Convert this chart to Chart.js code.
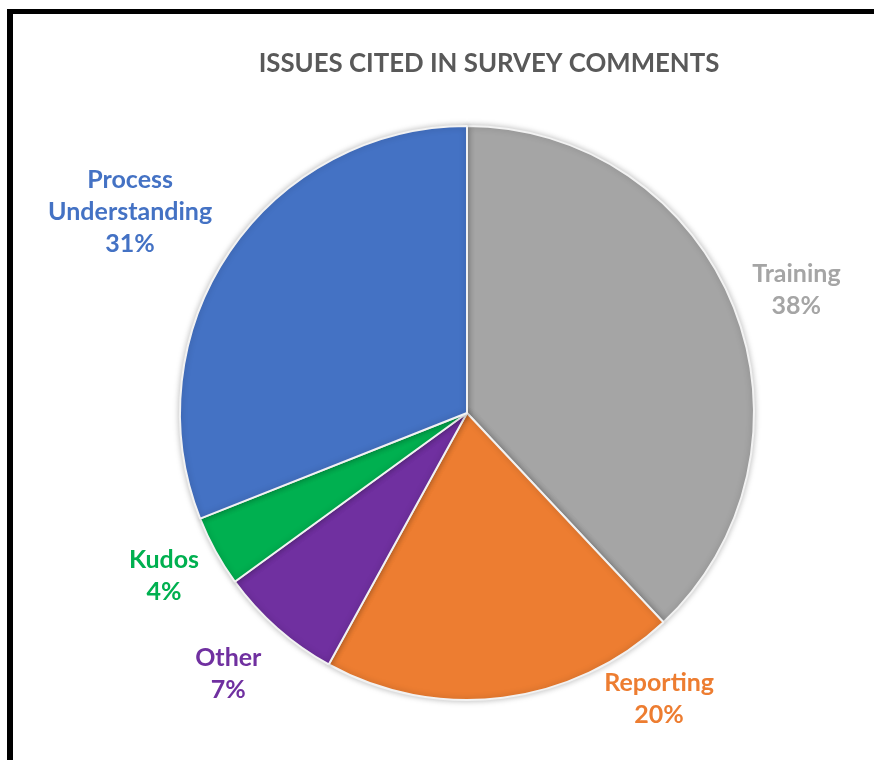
<!DOCTYPE html>
<html>
<head>
<meta charset="utf-8">
<title>Issues cited in survey comments</title>
<script src="https://cdn.jsdelivr.net/npm/chart.js@4.4.1/dist/chart.umd.min.js"></script>
<style>
  html, body { margin: 0; padding: 0; background: #fff; overflow: hidden; }
  #frame {
    position: absolute; left: 7px; top: 9px; width: 1000px; height: 1000px;
    border-left: 6px solid #000; border-top: 5px solid #000;
  }
  #issuesChart { position: absolute; left: 0; top: 0; }
</style>
</head>
<body>
<div id="frame"></div>
<canvas id="issuesChart" width="874" height="760"></canvas>
<script>
const chartTitle = 'ISSUES CITED IN SURVEY COMMENTS';
const categories = ['Training', 'Reporting', 'Other', 'Kudos', 'Process Understanding'];
const shares = [38, 20, 7, 4, 31];
const sliceColors = ['#a5a5a5', '#ed7d31', '#7030a0', '#00b050', '#4472c4'];

// where each label sits: [shift from slice mid-angle in degrees, distance as a multiple of the radius]
const labelPlacement = [[1, 1.226], [-26.8, 1.197], [1.1, 1.231], [0.7, 1.197], [-3.3, 1.368]];

const FONT = 'Lato, "Open Sans", sans-serif';

const titlePlugin = {
    id: 'offsetTitle',
    afterDraw(chart) {
        const ctx = chart.ctx;
        const area = chart.chartArea;
        ctx.save();
        ctx.font = 'bold 25.8px ' + FONT;
        ctx.fillStyle = '#595959';
        ctx.textAlign = 'center';
        ctx.textBaseline = 'alphabetic';
        ctx.fillText(chartTitle, (area.left + area.right) / 2 + 22, 72);
        ctx.restore();
    }
};

const sliceLabels = {
    id: 'sliceLabels',
    afterDatasetsDraw(chart) {
        const ctx = chart.ctx;
        const arcs = chart.getDatasetMeta(0).data;
        const data = chart.data.datasets[0].data;
        const total = data.reduce((a, b) => a + b, 0);
        const size = 25, lineH = 32, capH = size * 0.7;
        ctx.save();
        ctx.font = 'bold ' + size + 'px ' + FONT;
        ctx.textAlign = 'center';
        ctx.textBaseline = 'alphabetic';
        arcs.forEach((arc, i) => {
            const p = arc.getProps(['x', 'y', 'startAngle', 'endAngle', 'outerRadius'], true);
            const ang = (p.startAngle + p.endAngle) / 2 + labelPlacement[i][0] * Math.PI / 180;
            const dist = p.outerRadius * labelPlacement[i][1];
            const cx = p.x + Math.cos(ang) * dist;
            const cy = p.y + Math.sin(ang) * dist;
            const lines = chart.data.labels[i].split(' ');
            lines.push(Math.round(data[i] / total * 100) + '%');
            ctx.fillStyle = sliceColors[i];
            lines.forEach((txt, j) => {
                const y = cy + (j - (lines.length - 1) / 2) * lineH + capH / 2;
                ctx.fillText(txt, cx, y);
            });
        });
        ctx.restore();
    }
};

const softShadow = {
    id: 'softShadow',
    beforeDatasetsDraw(chart) {
        const ctx = chart.ctx;
        ctx.save();
        ctx.shadowColor = 'rgba(0,0,0,0.25)';
        ctx.shadowBlur = 6;
    },
    afterDatasetsDraw(chart) {
        chart.ctx.restore();
    }
};

new Chart(document.getElementById('issuesChart'), {
    type: 'pie',
    data: {
        labels: categories,
        datasets: [{
            data: shares,
            backgroundColor: sliceColors,
            borderColor: '#f2f2f2',
            borderWidth: 2
        }]
    },
    options: {
        responsive: false,
        animation: false,
        layout: {
            padding: { left: 179, right: 119, top: 125, bottom: 59 }
        },
        plugins: {
            legend: { display: false },
            tooltip: { enabled: false },
            title: { display: false }
        }
    },
    plugins: [softShadow, sliceLabels, titlePlugin]
});
</script>
</body>
</html>
